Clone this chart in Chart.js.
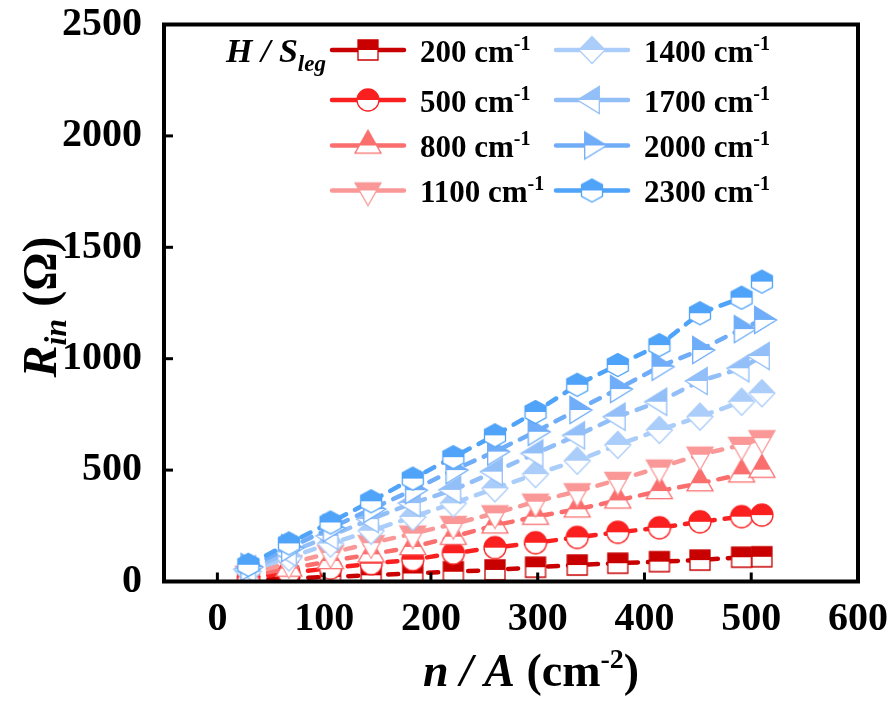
<!DOCTYPE html>
<html>
<head>
<meta charset="utf-8">
<script src="https://cdn.jsdelivr.net/npm/chart.js@4.4.1/dist/chart.umd.min.js"></script>
<style>
  html, body { margin: 0; padding: 0; background: #fff; }
  #wrap { width: 893px; height: 702px; }
</style>
</head>
<body>
<div id="wrap"><canvas id="chart" width="893" height="702"></canvas></div>
<script>
// n / A values (cm^-2), shared by every series
const xValues = [29, 67, 106, 144, 183, 221, 260, 298, 337, 375, 414, 452, 491, 510];

// R_in (ohm) for each H / S_leg
const r200  = [6, 14, 21, 28, 36, 44, 52, 64, 74, 82, 89, 96, 109, 111];
const r500  = [16, 38, 60, 80, 98, 127, 152, 174, 198, 221, 241, 268, 291, 298];
const r800  = [25, 58, 92, 122, 155, 201, 252, 291, 324, 364, 406, 441, 481, 502];
const r1100 = [35, 82, 128, 172, 215, 258, 306, 358, 405, 456, 511, 569, 613, 643];
const r1400 = [45, 108, 170, 228, 290, 351, 418, 482, 542, 613, 680, 740, 807, 845];
const r1700 = [55, 130, 205, 280, 352, 411, 493, 575, 656, 740, 807, 900, 957, 1012];
const r2000 = [65, 150, 240, 325, 410, 500, 583, 672, 770, 864, 964, 1039, 1133, 1174];
const r2300 = [75, 171, 265, 360, 462, 558, 656, 761, 883, 972, 1061, 1204, 1274, 1346];

const seriesNames = ['200', '500', '800', '1100', '1400', '1700', '2000', '2300'];
const seriesValues = [r200, r500, r800, r1100, r1400, r1700, r2000, r2300];
const seriesColors = ['#c80000', '#fa2020', '#fa6e6e', '#fa9898', '#abcdfa', '#93bff9', '#70adf9', '#4fa3f8'];
const seriesShapes = ['square', 'circle', 'triangleUp', 'triangleDown', 'diamond', 'triangleLeft', 'triangleRight', 'hexagon'];

const xTicks = [0, 100, 200, 300, 400, 500, 600];
const yTicks = [0, 500, 1000, 1500, 2000, 2500];

const SERIF = '"Liberation Serif", "Times New Roman", serif';

function markerPath(g, shape) {
    g.beginPath();
    switch (shape) {
        case 'square': g.rect(-10, -10, 20, 20); break;
        case 'circle': g.arc(0, 0, 11, 0, Math.PI * 2); break;
        case 'triangleUp':
            g.moveTo(0, -15.3); g.lineTo(13, 7.7); g.lineTo(-13, 7.7); g.closePath(); break;
        case 'triangleDown':
            g.moveTo(0, 15.3); g.lineTo(13, -7.7); g.lineTo(-13, -7.7); g.closePath(); break;
        case 'diamond':
            g.moveTo(0, -13.5); g.lineTo(13, 0); g.lineTo(0, 13.5); g.lineTo(-13, 0); g.closePath(); break;
        case 'triangleLeft':
            g.moveTo(-14.7, 0); g.lineTo(7.3, -13.5); g.lineTo(7.3, 13.5); g.closePath(); break;
        case 'triangleRight':
            g.moveTo(14.7, 0); g.lineTo(-7.3, -13.5); g.lineTo(-7.3, 13.5); g.closePath(); break;
        case 'hexagon':
            g.moveTo(0, -11.5); g.lineTo(10.5, -5.8); g.lineTo(10.5, 5.8);
            g.lineTo(0, 11.5); g.lineTo(-10.5, 5.8); g.lineTo(-10.5, -5.8); g.closePath(); break;
    }
}

// half-filled symbol: coloured top half, white bottom half
function makeMarker(shape, color) {
    const c = document.createElement('canvas');
    c.width = 36; c.height = 36;
    const g = c.getContext('2d');
    g.translate(18, 18);
    markerPath(g, shape);
    g.fillStyle = '#fff';
    g.fill();
    g.save();
    g.clip();
    g.fillStyle = color;
    g.fillRect(-18, -18, 36, 18);
    g.restore();
    markerPath(g, shape);
    g.lineWidth = 1.3;
    g.strokeStyle = color;
    g.stroke();
    return c;
}

const markers = seriesShapes.map((s, i) => makeMarker(s, seriesColors[i]));

function drawRuns(ctx, runs, x, y, align) {
    let total = 0;
    runs.forEach(r => { ctx.font = r.font; r.w = ctx.measureText(r.text).width; total += r.w; });
    let cx = align === 'center' ? x - total / 2 : x;
    ctx.textBaseline = 'alphabetic';
    ctx.textAlign = 'left';
    runs.forEach(r => {
        ctx.font = r.font;
        ctx.fillText(r.text, cx, y + (r.dy || 0));
        cx += r.w;
    });
}

const decor = {
    id: 'decor',
    afterDatasetsDraw(chart) {
        const { ctx, chartArea: a, scales } = chart;
        ctx.save();
        ctx.strokeStyle = '#000';
        ctx.lineWidth = 3;
        xTicks.forEach(v => {
            const px = scales.x.getPixelForValue(v);
            ctx.beginPath(); ctx.moveTo(px, a.bottom); ctx.lineTo(px, a.bottom - 9); ctx.stroke();
        });
        yTicks.forEach(v => {
            const py = scales.y.getPixelForValue(v);
            ctx.beginPath(); ctx.moveTo(a.left, py); ctx.lineTo(a.left + 9, py); ctx.stroke();
        });
        ctx.lineWidth = 4;
        ctx.strokeRect(a.left, a.top, a.right - a.left, a.bottom - a.top);
        ctx.restore();
    },
    afterDraw(chart) {
        const ctx = chart.ctx;
        ctx.save();
        ctx.fillStyle = '#000';

        // x axis title
        drawRuns(ctx, [
            { text: 'n / A', font: `italic bold 46px ${SERIF}` },
            { text: ' (cm', font: `bold 46px ${SERIF}` },
            { text: '-2', font: `bold 28px ${SERIF}`, dy: -18 },
            { text: ')', font: `bold 46px ${SERIF}` }
        ], 531, 686, 'center');

        // y axis title
        ctx.save();
        ctx.translate(56, 307);
        ctx.rotate(-Math.PI / 2);
        drawRuns(ctx, [
            { text: 'R', font: `italic bold 48px ${SERIF}` },
            { text: 'in', font: `italic bold 32px ${SERIF}`, dy: 10 },
            { text: ' (\u03A9)', font: `bold 48px ${SERIF}` }
        ], 0, 0, 'center');
        ctx.restore();

        // legend
        drawRuns(ctx, [
            { text: 'H / S', font: `italic bold 34px ${SERIF}` },
            { text: 'leg', font: `italic bold 23px ${SERIF}`, dy: 9 }
        ], 226, 62, 'left');

        const rowY = [50, 100, 145.5, 190.5];
        const colX = [332, 556];
        seriesNames.forEach((name, i) => {
            const col = Math.floor(i / 4);
            const y = rowY[i % 4];
            const x0 = colX[col];
            ctx.strokeStyle = seriesColors[i];
            ctx.lineWidth = 4.5;
            ctx.lineCap = 'round';
            ctx.beginPath(); ctx.moveTo(x0, y); ctx.lineTo(x0 + 72, y); ctx.stroke();
            ctx.drawImage(markers[i], x0 + 36 - 18, y - 18);
            drawRuns(ctx, [
                { text: name + ' cm', font: `bold 31px ${SERIF}` },
                { text: '-1', font: `bold 20px ${SERIF}`, dy: -12 }
            ], x0 + 88, y + 11.7, 'left');
        });
        ctx.restore();
    }
};

const tickFont = { family: SERIF, size: 40, weight: 'bold', lineHeight: 1 };

new Chart(document.getElementById('chart'), {
    type: 'line',
    data: {
        datasets: seriesNames.map((name, i) => ({
            label: name + ' cm-1',
            data: xValues.map((x, k) => ({ x: x, y: seriesValues[i][k] })),
            borderColor: seriesColors[i],
            backgroundColor: seriesColors[i],
            borderWidth: 4.5,
            borderDash: [10, 10],
            borderCapStyle: 'round',
            pointStyle: markers[i],
            pointRadius: 11,
            pointHoverRadius: 11,
            tension: 0,
            order: 7 - i
        }))
    },
    options: {
        responsive: false,
        animation: false,
        events: [],
        layout: { padding: { top: 24.5, right: 35, left: 0, bottom: 0 } },
        plugins: { legend: { display: false }, tooltip: { enabled: false } },
        scales: {
            x: {
                type: 'linear',
                min: -50,
                max: 600,
                grid: { display: false },
                border: { display: false },
                ticks: {
                    padding: 10,
                    color: '#000',
                    font: tickFont,
                    callback: v => String(v)
                },
                afterBuildTicks: s => { s.ticks = xTicks.map(v => ({ value: v })); },
                afterFit: s => { s.height = 120.5; s.paddingLeft = 0; s.paddingRight = 0; }
            },
            y: {
                min: 0,
                max: 2500,
                grid: { display: false },
                border: { display: false },
                ticks: {
                    padding: 14,
                    color: '#000',
                    font: tickFont,
                    callback: v => String(v)
                },
                afterBuildTicks: s => { s.ticks = yTicks.map(v => ({ value: v })); },
                afterFit: s => { s.width = 164; s.paddingTop = 0; s.paddingBottom = 0; }
            }
        }
    },
    plugins: [decor]
});
</script>
</body>
</html>
